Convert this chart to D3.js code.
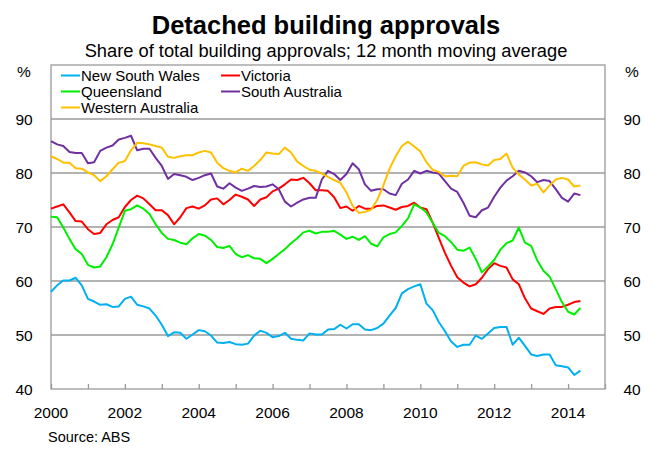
<!DOCTYPE html>
<html>
<head>
<meta charset="utf-8">
<script src="https://cdn.jsdelivr.net/npm/d3@7"></script>
<style>
  body { margin: 0; background: #fff; }
  text { font-family: "Liberation Sans", Arial, sans-serif; fill: #000; }
</style>
</head>
<body>
<div id="chart"></div>
<script>
// bi-monthly readings, Jan 2000 to May 2014
const nsw = [58.0, 59.2, 60.1, 60.1, 60.6, 59.2, 56.7, 56.2, 55.6, 55.7, 55.2, 55.3, 56.7, 57.1, 55.6, 55.3, 54.9, 53.6, 51.9, 49.8, 50.5, 50.4, 49.3, 50.1, 50.9, 50.7, 49.9, 48.6, 48.5, 48.7, 48.3,
  48.2, 48.4, 49.9, 50.8, 50.4, 49.6, 49.8, 50.4, 49.3, 49.1, 49.0, 50.3, 50.1, 50.1, 51.0, 51.1, 51.9, 51.2, 52.0, 52.0, 51.0, 50.9, 51.3, 52.1, 53.6, 55.0, 57.7, 58.5, 59.0, 59.4,
  55.8, 54.6, 52.4, 50.7, 48.8, 47.8, 48.2, 48.2, 49.9, 49.3, 50.3, 51.3, 51.5, 51.5, 48.2, 49.5, 48.0, 46.4, 46.1, 46.4, 46.4, 44.4, 44.2, 44.0, 42.6, 43.4];
const vic = [73.4, 73.8, 74.2, 72.7, 71.1, 71.0, 69.6, 68.7, 68.9, 70.5, 71.3, 71.8, 73.7, 75.0, 75.8, 75.3, 74.2, 73.1, 73.1, 72.2, 70.5, 71.8, 73.5, 73.8, 73.4, 74.0, 75.1, 75.3, 74.2, 75.0, 76.0,
  75.6, 75.1, 73.9, 75.1, 75.5, 76.6, 77.1, 77.9, 78.8, 78.7, 79.1, 78.1, 76.8, 76.8, 76.7, 75.5, 73.5, 73.8, 73.0, 73.9, 73.4, 73.4, 73.9, 74.0, 73.6, 73.2, 73.7, 73.9, 74.5, 73.6,
  73.3, 70.8, 68.0, 65.2, 62.8, 60.7, 59.7, 59.0, 59.4, 60.6, 62.2, 63.3, 62.8, 62.5, 60.3, 59.4, 56.8, 54.9, 54.4, 53.9, 54.9, 55.2, 55.2, 55.6, 56.1, 56.3];
const qld = [71.9, 71.8, 69.9, 67.8, 65.9, 65.0, 63.0, 62.5, 62.7, 64.4, 66.8, 69.9, 73.0, 73.3, 74.0, 73.4, 72.4, 70.5, 68.9, 67.8, 67.6, 67.1, 66.8, 67.9, 68.7, 68.4, 67.6, 66.3, 66.1, 66.5, 65.0,
  64.4, 64.8, 64.2, 64.1, 63.3, 64.1, 65.0, 65.9, 67.0, 67.9, 69.0, 69.3, 68.8, 69.1, 69.1, 69.3, 68.6, 67.8, 68.2, 67.6, 68.3, 66.9, 66.4, 68.1, 68.7, 69.0, 70.2, 71.6, 74.2, 73.6,
  72.7, 70.8, 68.9, 68.3, 67.2, 65.8, 65.6, 66.2, 64.1, 61.6, 62.7, 63.9, 65.8, 67.0, 67.5, 69.9, 67.1, 66.5, 63.8, 61.9, 60.8, 58.5, 56.1, 54.3, 53.8, 55.0];
const sa = [85.9, 85.3, 85.0, 83.9, 83.7, 83.7, 81.8, 82.0, 84.1, 84.7, 85.1, 86.2, 86.5, 86.9, 84.2, 84.5, 84.5, 82.8, 81.3, 78.9, 79.8, 79.6, 79.3, 78.7, 79.1, 79.6, 79.9, 77.5, 77.1, 78.1, 77.3,
  76.7, 77.1, 77.6, 77.4, 77.5, 77.9, 77.0, 74.7, 73.8, 74.5, 75.1, 75.4, 75.4, 78.8, 80.4, 79.8, 78.7, 79.8, 81.8, 80.7, 77.9, 76.7, 77.0, 77.0, 76.2, 75.9, 78.0, 78.8, 80.4, 79.9,
  80.4, 80.1, 79.9, 78.5, 77.1, 76.5, 74.5, 72.1, 71.8, 73.1, 73.6, 75.6, 77.3, 78.6, 79.4, 80.4, 80.1, 79.4, 78.3, 78.7, 78.5, 77.0, 75.4, 74.7, 76.2, 75.9];
const wa = [83.1, 82.6, 81.9, 81.9, 80.9, 80.8, 80.1, 79.6, 78.5, 79.4, 80.7, 81.9, 82.2, 84.2, 85.6, 85.5, 85.3, 85.0, 84.7, 83.0, 82.8, 83.1, 83.3, 83.3, 83.8, 84.1, 83.8, 81.9, 80.9, 80.4, 80.1,
  80.8, 80.4, 81.3, 82.4, 83.8, 83.6, 83.5, 84.7, 83.8, 82.1, 81.3, 80.6, 80.4, 79.9, 79.3, 78.7, 78.2, 76.4, 73.9, 72.6, 72.8, 73.2, 75.0, 77.7, 80.8, 83.1, 85.0, 85.8, 84.9, 84.0,
  82.0, 80.6, 80.2, 79.4, 79.5, 79.4, 81.3, 81.9, 82.0, 81.6, 81.4, 82.4, 82.6, 83.6, 81.0, 79.7, 78.8, 77.7, 78.0, 76.4, 77.7, 78.8, 79.1, 78.8, 77.5, 77.7];

const dates = d3.range(nsw.length).map(i => 2000 + i / 6);
const yTicks = [40, 50, 60, 70, 80, 90];
const xLabels = [2000, 2002, 2004, 2006, 2008, 2010, 2012, 2014];

const seriesNames = ["New South Wales", "Victoria", "Queensland", "South Australia", "Western Australia"];
const seriesData = [nsw, vic, qld, sa, wa];
const seriesColors = ["#00b0f0", "#ff0000", "#00ee00", "#7030a0", "#ffc000"];

const width = 653, height = 454;
const margin = { top: 65, right: 48, bottom: 65, left: 51 };

const svg = d3.select("#chart").append("svg")
  .attr("width", width)
  .attr("height", height);

const x = d3.scaleLinear().domain([2000, 2015]).range([margin.left, width - margin.right]);
const y = d3.scaleLinear().domain([40, 100]).range([height - margin.bottom, margin.top]);

// titles
svg.append("text")
  .attr("x", 326).attr("y", 34)
  .attr("text-anchor", "middle")
  .style("font-size", "25.5px").style("font-weight", "bold")
  .text("Detached building approvals");
svg.append("text")
  .attr("x", 326).attr("y", 57)
  .attr("text-anchor", "middle")
  .style("font-size", "18.3px")
  .text("Share of total building approvals; 12 month moving average");

// gridlines
svg.append("g")
  .selectAll("line")
  .data(yTicks.filter(d => d > 40))
  .enter().append("line")
  .attr("x1", x(2000)).attr("x2", x(2015))
  .attr("y1", d => y(d)).attr("y2", d => y(d))
  .attr("stroke", "#9a9a9a").attr("stroke-width", 1.3);

// frame
svg.append("rect")
  .attr("x", x(2000)).attr("y", y(100))
  .attr("width", x(2015) - x(2000)).attr("height", y(40) - y(100))
  .attr("fill", "none").attr("stroke", "#9a9a9a").attr("stroke-width", 1.3);

// year ticks on the bottom axis, pointing up
svg.append("g")
  .attr("transform", `translate(0,${y(40)})`)
  .call(d3.axisBottom(x).tickValues(d3.range(2000, 2016)).tickSize(-5).tickFormat(""))
  .call(g => g.select(".domain").remove())
  .call(g => g.selectAll("line").attr("stroke", "#9a9a9a").attr("stroke-width", 1.3));

// x labels
svg.append("g")
  .selectAll("text")
  .data(xLabels)
  .enter().append("text")
  .attr("x", d => x(d)).attr("y", 418)
  .attr("text-anchor", "middle")
  .style("font-size", "15.5px")
  .text(d => d);

// y labels both sides
[24, 632].forEach(xp => {
  svg.append("g")
    .selectAll("text")
    .data(yTicks)
    .enter().append("text")
    .attr("x", xp).attr("y", d => y(d) + 6)
    .attr("text-anchor", "middle")
    .style("font-size", "15.5px")
    .text(d => d);
  svg.append("text")
    .attr("x", xp).attr("y", 77)
    .attr("text-anchor", "middle")
    .style("font-size", "15.5px")
    .text("%");
});

// lines
const line = d3.line()
  .x((d, i) => x(dates[i]))
  .y(d => y(d));

seriesData.forEach((s, k) => {
  svg.append("path")
    .datum(s)
    .attr("fill", "none")
    .attr("stroke", seriesColors[k])
    .attr("stroke-width", 2)
    .attr("stroke-linejoin", "round")
    .attr("d", line);
});

// legend
const legendPos = [[61, 75.5], [221, 75.5], [61, 91.5], [221, 91.5], [61, 107.5]];
seriesNames.forEach((name, k) => {
  const [lx, ly] = legendPos[k];
  svg.append("line")
    .attr("x1", lx).attr("x2", lx + 19)
    .attr("y1", ly).attr("y2", ly)
    .attr("stroke", seriesColors[k]).attr("stroke-width", 2);
  svg.append("text")
    .attr("x", lx + 20).attr("y", ly + 5.5)
    .style("font-size", "15px")
    .text(name);
});

// source
svg.append("text")
  .attr("x", 48).attr("y", 442)
  .style("font-size", "14.5px")
  .text("Source: ABS");
</script>
</body>
</html>
